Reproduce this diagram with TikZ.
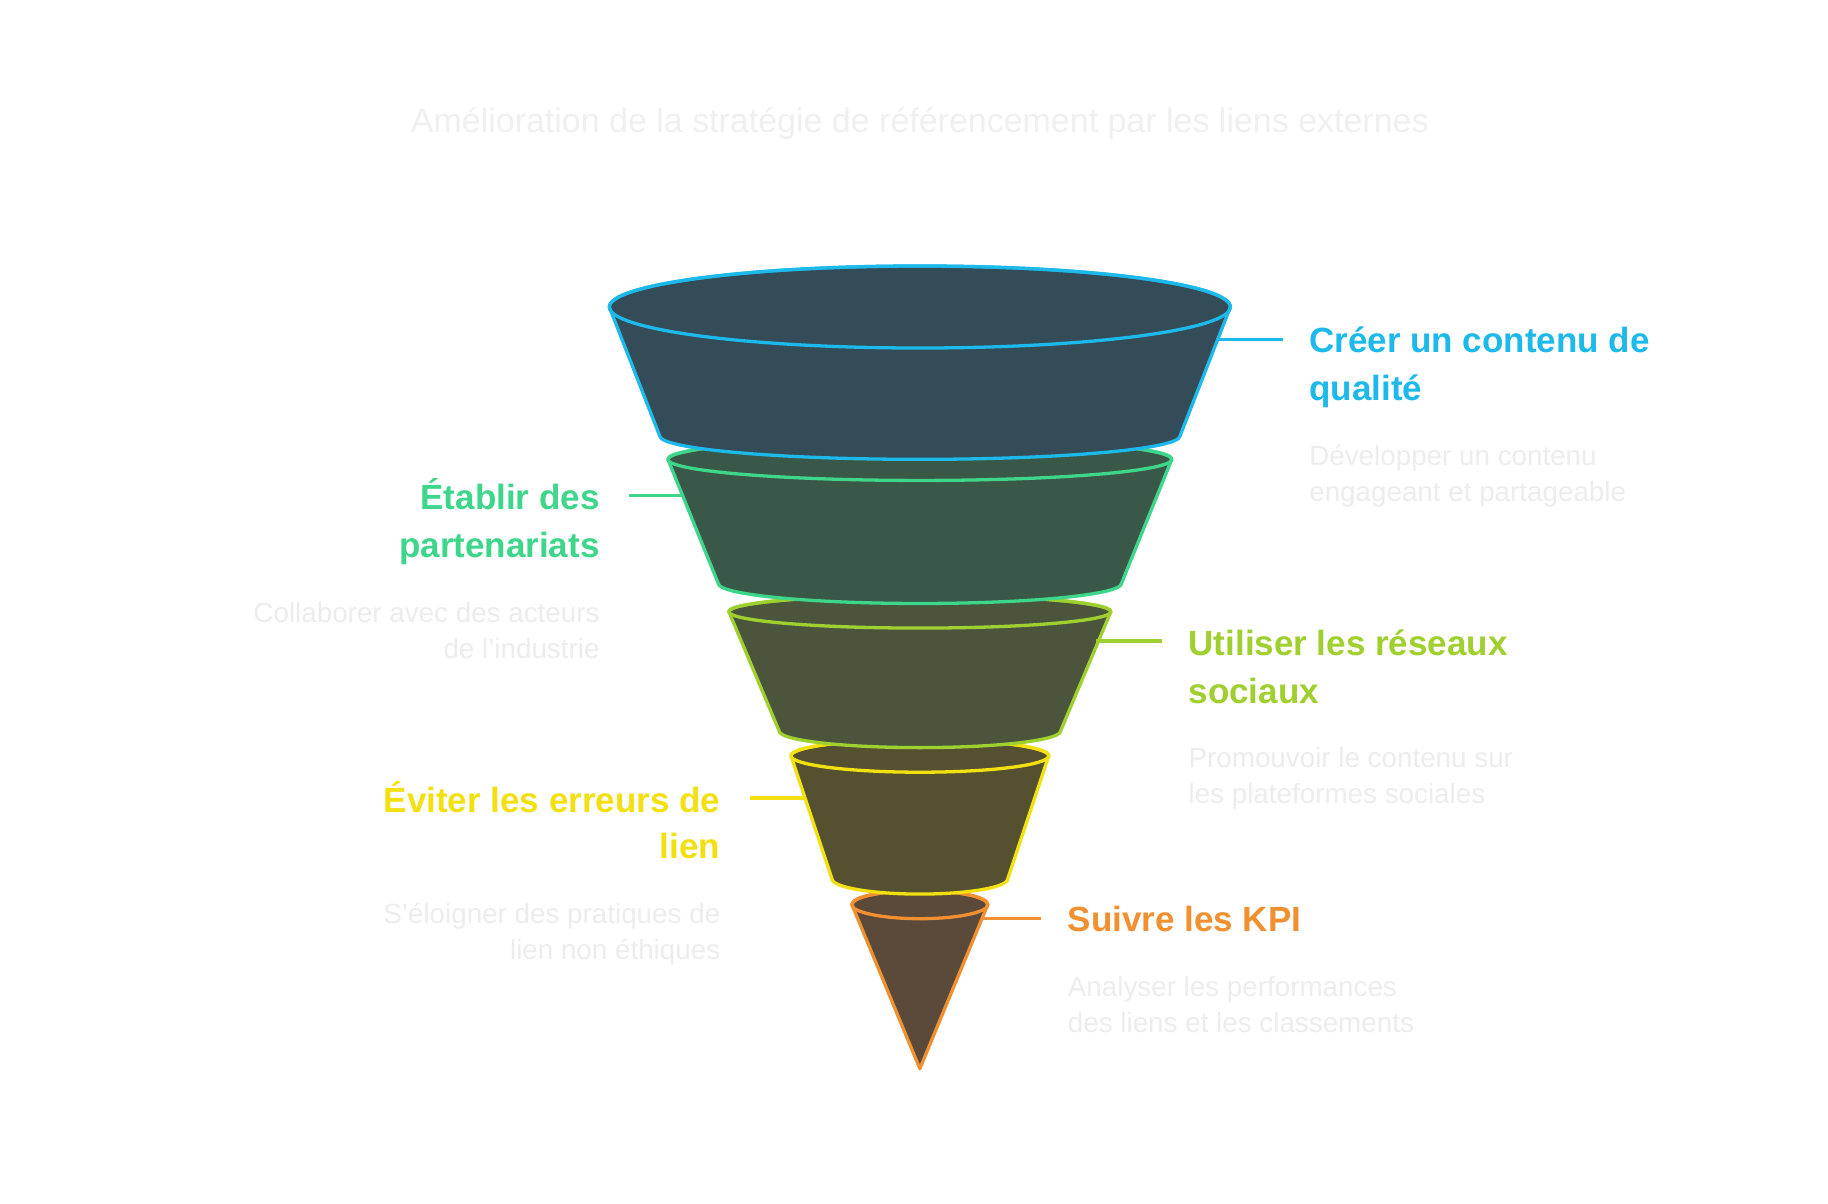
\documentclass[tikz,border=0pt]{standalone}
\usepackage{fontspec}
\setmainfont{Liberation Sans}
\begin{document}
\begin{tikzpicture}[x=0.02cm,y=-0.02cm,
 hd/.style={font=\fontsize{17pt}{20pt}\selectfont\bfseries,inner sep=0pt},
 ds/.style={font=\fontsize{13.5pt}{16pt}\selectfont,text=black!7,inner sep=0pt},
 lay/.style={line width=1.6pt,line join=round}]
\definecolor{c1}{HTML}{1CB9EA}\definecolor{f1}{HTML}{334C58}
\definecolor{c2}{HTML}{3ED68A}\definecolor{f2}{HTML}{3A5848}
\definecolor{c3}{HTML}{A0D030}\definecolor{f3}{HTML}{4A553C}
\definecolor{c4}{HTML}{F2E010}\definecolor{f4}{HTML}{555030}
\definecolor{c5}{HTML}{F09030}\definecolor{f5}{HTML}{5B4A3A}
\useasboundingbox[fill=white] (0,0) rectangle (1560,1027);
\node[font=\fontsize{16.5pt}{20pt}\selectfont,text=black!6,inner sep=0pt] (title) at (785,105) {Amélioration de la stratégie de référencement par les liens externes};
% layer 5
\filldraw[lay,draw=c5,fill=f5] (727,772) -- (785,912) -- (843,772) arc[start angle=0,end angle=180,x radius=58,y radius=-12] -- cycle;
\draw[lay,draw=c5] (785,772) ellipse[x radius=58,y radius=12];
% layer 4
\filldraw[lay,draw=c4,fill=f4] (675,645) -- (710,750) arc[start angle=180,end angle=360,x radius=75,y radius=-13] -- (895,645) arc[start angle=0,end angle=180,x radius=110,y radius=-14] -- cycle;
\draw[lay,draw=c4] (785,645) ellipse[x radius=110,y radius=14];
% layer 3
\filldraw[lay,draw=c3,fill=f3] (622,522) -- (665,624) arc[start angle=180,end angle=360,x radius=120,y radius=-14] -- (948,522) arc[start angle=0,end angle=180,x radius=163,y radius=-14] -- cycle;
\draw[lay,draw=c3] (785,522) ellipse[x radius=163,y radius=14];
% layer 2
\filldraw[lay,draw=c2,fill=f2] (570,392) -- (613,498) arc[start angle=180,end angle=360,x radius=172,y radius=-17] -- (1000,392) arc[start angle=0,end angle=180,x radius=215,y radius=-18] -- cycle;
\draw[lay,draw=c2] (785,392) ellipse[x radius=215,y radius=18];
% layer 1
\filldraw[lay,draw=c1,fill=f1] (520,262) -- (563,372) arc[start angle=180,end angle=360,x radius=222,y radius=-20] -- (1050,262) arc[start angle=0,end angle=180,x radius=265,y radius=-35] -- cycle;
\draw[lay,draw=c1] (785,262) ellipse[x radius=265,y radius=35];
% leaders
\coordinate (a1) at (1038,290); \coordinate (b1) at (1095,290);
\coordinate (a2) at (583,423); \coordinate (b2) at (537,423);
\coordinate (a3) at (935,547); \coordinate (b3) at (992,547);
\coordinate (a4) at (688,681); \coordinate (b4) at (640,681);
\coordinate (a5) at (838,784); \coordinate (b5) at (888,784);
\draw[line width=1.6pt,c1] (a1)--(b1);
\draw[line width=1.6pt,c2] (a2)--(b2);
\draw[line width=1.6pt,c3] (a3)--(b3);
\draw[line width=1.6pt,c4] (a4)--(b4);
\draw[line width=1.6pt,c5] (a5)--(b5);
% texts
\node[hd,text=c1,anchor=base west] (h1a) at (1117,301) {Créer un contenu de};
\node[hd,text=c1,anchor=base west] (h1b) at (1117,342) {qualité};
\node[ds,anchor=base west] (d1a) at (1117,397) {Développer un contenu};
\node[ds,anchor=base west] (d1b) at (1117,428) {engageant et partageable};
\node[hd,text=c2,anchor=base east] (h2a) at (512,435) {Établir des};
\node[hd,text=c2,anchor=base east] (h2b) at (512,476) {partenariats};
\node[ds,anchor=base east] (d2a) at (512,531) {Collaborer avec des acteurs};
\node[ds,anchor=base east] (d2b) at (512,562) {de l'industrie};
\node[hd,text=c3,anchor=base west] (h3a) at (1014,559) {Utiliser les réseaux};
\node[hd,text=c3,anchor=base west] (h3b) at (1014,600) {sociaux};
\node[ds,anchor=base west] (d3a) at (1014,655) {Promouvoir le contenu sur};
\node[ds,anchor=base west] (d3b) at (1014,686) {les plateformes sociales};
\node[hd,text=c4,anchor=base east] (h4a) at (615,693) {Éviter les erreurs de};
\node[hd,text=c4,anchor=base east] (h4b) at (615,733) {lien};
\node[ds,anchor=base east] (d4a) at (615,788) {S'éloigner des pratiques de};
\node[ds,anchor=base east] (d4b) at (615,819) {lien non éthiques};
\node[hd,text=c5,anchor=base west] (h5) at (911,795) {Suivre les KPI};
\node[ds,anchor=base west] (d5a) at (911,850) {Analyser les performances};
\node[ds,anchor=base west] (d5b) at (911,881) {des liens et les classements};
\end{tikzpicture}
\end{document}
